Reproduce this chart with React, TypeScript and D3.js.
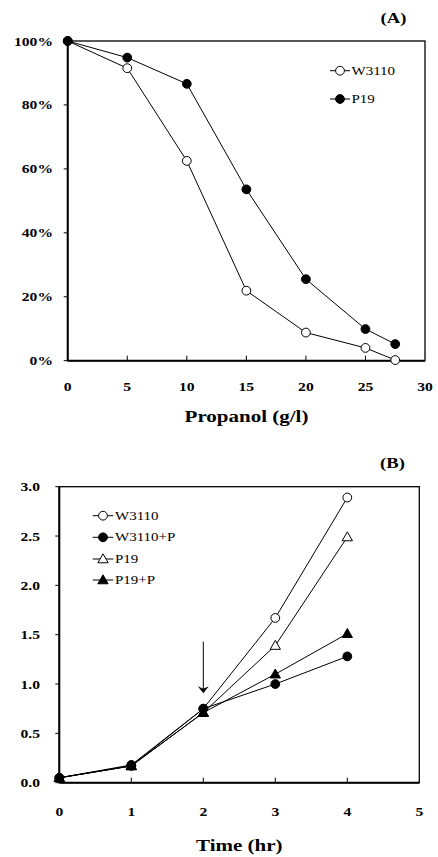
import React from "react";
import * as d3 from "d3";

// ---------- Data: chart A ----------
const propanol = [0, 5, 10, 15, 20, 25, 27.5];
const survW3110 = [100, 91.5, 62.5, 21.9, 8.8, 4.0, 0.2];
const survP19 = [100, 94.8, 86.6, 53.6, 25.5, 9.9, 5.2];
const xTicksA = [0, 5, 10, 15, 20, 25, 30];
const yTicksA = [0, 20, 40, 60, 80, 100];

// ---------- Data: chart B ----------
const timeHr = [0, 1, 2, 3, 4];
const odW3110 = [0.05, 0.17, 0.75, 1.67, 2.89];
const odW3110P = [0.05, 0.18, 0.75, 1.0, 1.28];
const odP19 = [0.05, 0.17, 0.71, 1.39, 2.49];
const odP19P = [0.05, 0.17, 0.71, 1.1, 1.51];
const xTicksB = [0, 1, 2, 3, 4, 5];
const yTicksB = [0, 0.5, 1.0, 1.5, 2.0, 2.5, 3.0];
const arrowTime = 2;

const FONT = "'Liberation Serif', 'Times New Roman', serif";
const SX = 1.2;

type Marker = "circleOpen" | "circleFilled" | "triOpen" | "triFilled";

function MarkerShape({ type, x, y }: { type: Marker; x: number; y: number }) {
  if (type === "circleOpen" || type === "circleFilled") {
    return (
      <circle
        cx={x}
        cy={y}
        r={4.4}
        fill={type === "circleFilled" ? "#000" : "#fff"}
        stroke="#000"
        strokeWidth={1}
      />
    );
  }
  const p = d3.symbol(d3.symbolTriangle, 46)();
  return (
    <path
      d={p || ""}
      transform={`translate(${x},${y + 0.8})`}
      fill={type === "triFilled" ? "#000" : "#fff"}
      stroke="#000"
      strokeWidth={1}
    />
  );
}

function T({
  x,
  y,
  children,
  anchor = "middle",
  size = 13,
  bold = true,
}: {
  x: number;
  y: number;
  children: React.ReactNode;
  anchor?: string;
  size?: number;
  bold?: boolean;
}) {
  return (
    <text
      transform={`translate(${x},${y}) scale(${SX},1)`}
      textAnchor={anchor as any}
      dominantBaseline="central"
      fontFamily={FONT}
      fontSize={size}
      fontWeight={bold ? "bold" : "normal"}
      fill="#000"
    >
      {children}
    </text>
  );
}

function ChartA() {
  const x = d3.scaleLinear().domain([0, 30]).range([67.7, 425]);
  const y = d3.scaleLinear().domain([0, 100]).range([360.7, 41]);
  const line = d3
    .line<[number, number]>()
    .x((d) => x(d[0]))
    .y((d) => y(d[1]));
  const series: { name: string; vals: number[]; m: Marker; ly: number }[] = [
    { name: "W3110", vals: survW3110, m: "circleOpen", ly: 70.7 },
    { name: "P19", vals: survP19, m: "circleFilled", ly: 99 },
  ];
  return (
    <g>
      {/* frame */}
      <rect x={x(0)} y={y(100)} width={x(30) - x(0)} height={y(0) - y(100)} fill="none" stroke="#000" strokeWidth={1.3} />
      <line x1={x(0)} x2={x(0)} y1={y(100)} y2={y(0)} stroke="#000" strokeWidth={2} />
      <line x1={x(0)} x2={x(30)} y1={y(0)} y2={y(0)} stroke="#000" strokeWidth={2} />
      {yTicksA.map((t) => (
        <g key={t}>
          <line x1={x(0) - 4} x2={x(0)} y1={y(t)} y2={y(t)} stroke="#000" strokeWidth={1} />
          <T x={53} y={y(t)} anchor="end">{`${t}%`}</T>
        </g>
      ))}
      {xTicksA.map((t) => (
        <g key={t}>
          {t > 0 && t < 30 && (
            <line x1={x(t)} x2={x(t)} y1={y(0)} y2={y(0) - 5} stroke="#000" strokeWidth={1} />
          )}
          <T x={x(t)} y={386.7}>{t}</T>
        </g>
      ))}
      {series.map((s) => (
        <g key={s.name}>
          <path
            d={line(propanol.map((p, i) => [p, s.vals[i]]) as [number, number][]) || ""}
            fill="none"
            stroke="#000"
            strokeWidth={1}
          />
          {propanol.map((p, i) => (
            <MarkerShape key={i} type={s.m} x={x(p)} y={y(s.vals[i])} />
          ))}
          <line x1={330} x2={350} y1={s.ly} y2={s.ly} stroke="#000" strokeWidth={1} />
          <MarkerShape type={s.m} x={340} y={s.ly} />
          <T x={351.5} y={s.ly} anchor="start" size={12.5} bold={false}>{s.name}</T>
        </g>
      ))}
      <T x={246.5} y={416} size={17.5}>Propanol (g/l)</T>
      <T x={393.5} y={18} size={15.5}>(A)</T>
    </g>
  );
}

function ChartB() {
  const x = d3.scaleLinear().domain([0, 5]).range([59.3, 419.3]);
  const y = d3.scaleLinear().domain([0, 3]).range([782.7, 486.7]);
  const line = d3
    .line<[number, number]>()
    .x((d) => x(d[0]))
    .y((d) => y(d[1]));
  const series: { name: string; vals: number[]; m: Marker; ly: number }[] = [
    { name: "W3110", vals: odW3110, m: "circleOpen", ly: 515.7 },
    { name: "W3110+P", vals: odW3110P, m: "circleFilled", ly: 537.3 },
    { name: "P19", vals: odP19, m: "triOpen", ly: 559 },
    { name: "P19+P", vals: odP19P, m: "triFilled", ly: 580 },
  ];
  const ax = x(arrowTime);
  const aTop = 641.7;
  const aTip = 693.3;
  return (
    <g>
      <rect x={x(0)} y={y(3)} width={x(5) - x(0)} height={y(0) - y(3)} fill="none" stroke="#000" strokeWidth={1.3} />
      <line x1={x(0)} x2={x(0)} y1={y(3)} y2={y(0)} stroke="#000" strokeWidth={2} />
      <line x1={x(0)} x2={x(5)} y1={y(0)} y2={y(0)} stroke="#000" strokeWidth={2} />
      {yTicksB.map((t) => (
        <g key={t}>
          <line x1={x(0) - 4} x2={x(0)} y1={y(t)} y2={y(t)} stroke="#000" strokeWidth={1} />
          <T x={40} y={y(t)} anchor="end">{t.toFixed(1)}</T>
        </g>
      ))}
      {xTicksB.map((t) => (
        <g key={t}>
          {t > 0 && t < 5 && (
            <line x1={x(t)} x2={x(t)} y1={y(0)} y2={y(0) - 5} stroke="#000" strokeWidth={1} />
          )}
          <T x={x(t)} y={811.7}>{t}</T>
        </g>
      ))}
      {series.map((s) => (
        <g key={s.name}>
          <path
            d={line(timeHr.map((p, i) => [p, s.vals[i]]) as [number, number][]) || ""}
            fill="none"
            stroke="#000"
            strokeWidth={1}
          />
        </g>
      ))}
      {series.map((s) => (
        <g key={s.name + "m"}>
          {timeHr.map((p, i) => (
            <MarkerShape key={i} type={s.m} x={x(p)} y={y(s.vals[i])} />
          ))}
          <line x1={92.7} x2={113.3} y1={s.ly} y2={s.ly} stroke="#000" strokeWidth={1} />
          <MarkerShape type={s.m} x={103} y={s.ly} />
          <T x={115} y={s.ly} anchor="start" size={12.5} bold={false}>{s.name}</T>
        </g>
      ))}
      {/* arrow */}
      <line x1={ax} x2={ax} y1={aTop} y2={aTip - 4} stroke="#000" strokeWidth={1} />
      <path
        d={`M${ax - 5.5},${aTip - 7} L${ax},${aTip - 4.5} L${ax + 5.5},${aTip - 7} L${ax},${aTip} Z`}
        fill="#000"
      />
      <T x={239.3} y={845} size={17.5}>Time (hr)</T>
      <T x={392.5} y={463.3} size={15.5}>(B)</T>
    </g>
  );
}

export default function App() {
  return (
    <svg
      width={438}
      height={857}
      style={{ position: "absolute", left: 0, top: 0, background: "#fff" }}
    >
      <rect width={438} height={857} fill="#fff" />
      <ChartA />
      <ChartB />
    </svg>
  );
}
